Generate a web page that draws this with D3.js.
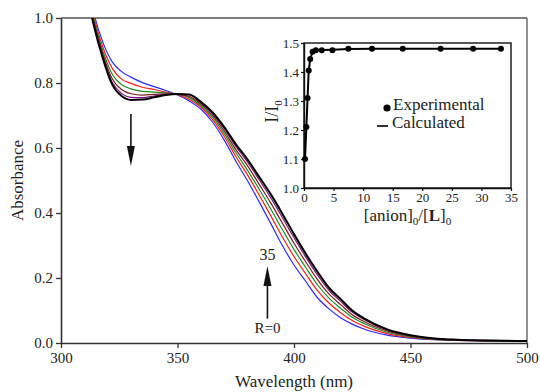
<!DOCTYPE html>
<html>
<head>
<meta charset="utf-8">
<script src="https://cdn.jsdelivr.net/npm/d3@7"></script>
<style>
  body { margin: 0; background: #fff; }
  svg text { font-family: "Liberation Serif", "DejaVu Serif", serif !important; fill: #222; }
</style>
</head>
<body>
<script>
// data

const wavelengths = [310, 314, 318, 322, 326, 330, 335, 340, 345, 350, 355, 360, 365, 370, 375, 380, 385, 390, 395, 400, 405, 410, 415, 420, 425, 430, 440, 450, 460, 470, 480, 490, 500];

const absBlue   = [1.20, 1.02, 0.925, 0.865, 0.835, 0.818, 0.801, 0.789, 0.777, 0.763, 0.745, 0.720, 0.680, 0.625, 0.560, 0.500, 0.435, 0.368, 0.300, 0.240, 0.190, 0.140, 0.105, 0.078, 0.058, 0.043, 0.024, 0.015, 0.010, 0.008, 0.007, 0.006, 0.006];
const absRed    = [1.180, 1.010, 0.910, 0.845, 0.812, 0.799, 0.787, 0.780, 0.772, 0.764, 0.750, 0.726, 0.688, 0.636, 0.574, 0.518, 0.456, 0.392, 0.326, 0.266, 0.213, 0.162, 0.123, 0.093, 0.069, 0.052, 0.029, 0.017, 0.011, 0.008, 0.007, 0.006, 0.006];
const absGreen  = [1.160, 1.000, 0.898, 0.827, 0.795, 0.782, 0.774, 0.772, 0.770, 0.765, 0.755, 0.731, 0.695, 0.645, 0.586, 0.532, 0.474, 0.413, 0.349, 0.288, 0.233, 0.180, 0.138, 0.107, 0.079, 0.060, 0.033, 0.019, 0.012, 0.009, 0.007, 0.006, 0.006];
const absBrown  = [1.144, 0.992, 0.889, 0.813, 0.780, 0.767, 0.763, 0.765, 0.767, 0.765, 0.759, 0.735, 0.701, 0.653, 0.596, 0.546, 0.489, 0.431, 0.369, 0.307, 0.250, 0.196, 0.151, 0.118, 0.087, 0.066, 0.037, 0.021, 0.013, 0.009, 0.008, 0.007, 0.006];
const absPurple = [1.130, 0.985, 0.880, 0.802, 0.768, 0.756, 0.755, 0.760, 0.765, 0.766, 0.763, 0.739, 0.706, 0.660, 0.606, 0.557, 0.503, 0.447, 0.386, 0.324, 0.265, 0.210, 0.162, 0.128, 0.095, 0.072, 0.040, 0.023, 0.014, 0.010, 0.008, 0.007, 0.006];
const absBlack  = [1.120, 0.980, 0.875, 0.795, 0.760, 0.748, 0.749, 0.756, 0.763, 0.766, 0.765, 0.742, 0.710, 0.665, 0.612, 0.565, 0.512, 0.458, 0.398, 0.335, 0.275, 0.220, 0.170, 0.135, 0.100, 0.076, 0.042, 0.024, 0.014, 0.010, 0.008, 0.007, 0.006];

const spectra = [
    { color: "#2a2aff", width: 1.2, values: absBlue },
    { color: "#ff1a1a", width: 1.2, values: absRed },
    { color: "#1f8a1f", width: 1.2, values: absGreen },
    { color: "#7a1c1c", width: 1.2, values: absBrown },
    { color: "#7a157a", width: 1.2, values: absPurple },
    { color: "#000000", width: 2.0, values: absBlack }
];

const xTicks = [300, 350, 400, 450, 500];
const yTicks = [0, 0.2, 0.4, 0.6, 0.8, 1.0];

// inset data
const ratio      = [0.17, 0.4, 0.6, 0.8, 1.05, 1.45, 2.0, 3.0, 4.8, 7.5, 11.5, 16.7, 23.1, 28.6, 33.3];
const intensity  = [1.10, 1.21, 1.31, 1.405, 1.445, 1.47, 1.475, 1.475, 1.475, 1.48, 1.48, 1.48, 1.48, 1.48, 1.48];
const calculated = [1.10, 1.21, 1.31, 1.405, 1.445, 1.47, 1.475, 1.476, 1.477, 1.479, 1.48, 1.48, 1.48, 1.48, 1.48];
const insetXTicks = [0, 5, 10, 15, 20, 25, 30, 35];
const insetYTicks = [1.0, 1.1, 1.2, 1.3, 1.4, 1.5];

const serif = '"Liberation Serif", "DejaVu Serif", serif';

// dimensions

const dms = {
    width: 540,
    height: 392,
    margins: { top: 18, right: 13, bottom: 49, left: 61 }
};
dms.innerWidth = dms.width - dms.margins.left - dms.margins.right;
dms.innerHeight = dms.height - dms.margins.top - dms.margins.bottom;

const svg = d3.select("body")
    .append("svg")
        .attr("width", dms.width)
        .attr("height", dms.height)
        .attr("font-family", serif);

const g = svg.append("g")
    .attr("transform", `translate(${dms.margins.left},${dms.margins.top})`);

// scales

const xScale = d3.scaleLinear().domain([300, 500]).range([0, dms.innerWidth]);
const yScale = d3.scaleLinear().domain([0, 1]).range([dms.innerHeight, 0]);

// clip

svg.append("defs").append("clipPath")
    .attr("id", "plotClip")
    .append("rect")
        .attr("width", dms.innerWidth)
        .attr("height", dms.innerHeight);

// frame top/right

g.append("line")
    .attr("x1", 0).attr("x2", dms.innerWidth).attr("y1", 0).attr("y2", 0)
    .attr("stroke", "#555").attr("stroke-width", 1.3);
g.append("line")
    .attr("x1", dms.innerWidth).attr("x2", dms.innerWidth).attr("y1", 0).attr("y2", dms.innerHeight)
    .attr("stroke", "#555").attr("stroke-width", 1.3);

// spectra

const line = d3.line()
    .x((d, i) => xScale(wavelengths[i]))
    .y(d => yScale(d))
    .curve(d3.curveMonotoneX);

g.append("g")
    .attr("clip-path", "url(#plotClip)")
    .selectAll("path")
    .data(spectra)
    .enter()
    .append("path")
        .attr("d", d => line(d.values))
        .attr("fill", "none")
        .attr("stroke", d => d.color)
        .attr("stroke-width", d => d.width);

// axes

const xAxis = g.append("g")
    .attr("transform", `translate(0,${dms.innerHeight})`)
    .call(d3.axisBottom(xScale).tickValues(xTicks).tickSize(5).tickSizeOuter(0).tickPadding(4));
const yAxis = g.append("g")
    .call(d3.axisLeft(yScale).tickValues(yTicks).tickFormat(d3.format(".1f")).tickSize(5).tickSizeOuter(0).tickPadding(3));

[xAxis, yAxis].forEach(ax => {
    ax.attr("font-family", serif);
    ax.select(".domain").attr("stroke", "#333").attr("stroke-width", 1.6);
    ax.selectAll(".tick line").attr("stroke", "#333").attr("stroke-width", 1.3);
    ax.selectAll(".tick text").style("font-size", "15px").attr("fill", "#222");
});

svg.append("text")
    .attr("x", dms.margins.left + dms.innerWidth / 2)
    .attr("y", 387)
    .attr("text-anchor", "middle")
    .style("font-size", "17px")
    .text("Wavelength (nm)");

svg.append("text")
    .attr("transform", `translate(23,${dms.margins.top + dms.innerHeight / 2}) rotate(-90)`)
    .attr("text-anchor", "middle")
    .style("font-size", "17px")
    .text("Absorbance");

// arrows

function arrow(x, yFrom, yTo) {
    const dir = yTo > yFrom ? 1 : -1;
    const headLen = 20;
    g.append("line")
        .attr("x1", x).attr("x2", x)
        .attr("y1", yFrom).attr("y2", yTo - dir * headLen + dir * 2)
        .attr("stroke", "#111").attr("stroke-width", 1.6);
    g.append("path")
        .attr("d", `M${x - 4},${yTo - dir * headLen} L${x + 4},${yTo - dir * headLen} L${x},${yTo} Z`)
        .attr("fill", "#111");
}

arrow(xScale(330), yScale(0.705), yScale(0.545));
arrow(xScale(388.6), yScale(0.075), yScale(0.237));

g.append("text")
    .attr("x", xScale(388.6))
    .attr("y", yScale(0.255))
    .attr("text-anchor", "middle")
    .style("font-size", "16px")
    .text("35");
g.append("text")
    .attr("x", xScale(388.6))
    .attr("y", yScale(0.03))
    .attr("text-anchor", "middle")
    .style("font-size", "15px")
    .text("R=0");

// inset

const inset = { left: 304, top: 43, width: 207, height: 145 };

const ix = d3.scaleLinear().domain([0, 35]).range([0, inset.width]);
const iy = d3.scaleLinear().domain([1.0, 1.5]).range([inset.height, 0]);

const ig = svg.append("g")
    .attr("transform", `translate(${inset.left},${inset.top})`);

ig.append("rect")
    .attr("width", inset.width)
    .attr("height", inset.height)
    .attr("fill", "none")
    .attr("stroke", "#111")
    .attr("stroke-width", 1.4);

const ixAxis = ig.append("g")
    .attr("transform", `translate(0,${inset.height})`)
    .call(d3.axisBottom(ix).tickValues(insetXTicks).tickSize(3).tickSizeOuter(0).tickPadding(2));
const iyAxis = ig.append("g")
    .call(d3.axisLeft(iy).tickValues(insetYTicks).tickFormat(d3.format(".1f")).tickSize(3).tickSizeOuter(0).tickPadding(2));

[ixAxis, iyAxis].forEach(ax => {
    ax.attr("font-family", serif);
    ax.select(".domain").attr("stroke", "#111").attr("stroke-width", 1.4);
    ax.selectAll(".tick line").attr("stroke", "#111").attr("stroke-width", 1.2);
    ax.selectAll(".tick text").style("font-size", "13px").attr("fill", "#222");
});

const insetLine = d3.line()
    .x((d, i) => ix(ratio[i]))
    .y(d => iy(d));

ig.append("path")
    .attr("d", insetLine(calculated))
    .attr("fill", "none")
    .attr("stroke", "#000")
    .attr("stroke-width", 2);

ig.selectAll("circle")
    .data(intensity)
    .enter()
    .append("circle")
        .attr("cx", (d, i) => ix(ratio[i]))
        .attr("cy", d => iy(d))
        .attr("r", 3)
        .attr("fill", "#000");

// inset legend
svg.append("circle")
    .attr("cx", 387).attr("cy", 108).attr("r", 3.6).attr("fill", "#000");
svg.append("text")
    .attr("x", 393).attr("y", 110)
    .style("font-size", "17px")
    .text("Experimental");
svg.append("line")
    .attr("x1", 377).attr("x2", 388).attr("y1", 126).attr("y2", 126)
    .attr("stroke", "#000").attr("stroke-width", 1.6);
svg.append("text")
    .attr("x", 392).attr("y", 128)
    .style("font-size", "17px")
    .text("Calculated");

// inset axis titles
const ixTitle = svg.append("text")
    .attr("x", inset.left + inset.width / 2)
    .attr("y", 221)
    .attr("text-anchor", "middle")
    .style("font-size", "17px");
ixTitle.append("tspan").text("[anion]");
ixTitle.append("tspan").attr("dy", 4).style("font-size", "11px").text("0");
ixTitle.append("tspan").attr("dy", -4).text("/[");
ixTitle.append("tspan").style("font-weight", "bold").text("L");
ixTitle.append("tspan").text("]");
ixTitle.append("tspan").attr("dy", 4).style("font-size", "11px").text("0");

const iyTitle = svg.append("text")
    .attr("transform", `translate(278,${inset.top + inset.height / 2 - 4}) rotate(-90)`)
    .attr("text-anchor", "middle")
    .style("font-size", "18px");
iyTitle.append("tspan").text("I/I");
iyTitle.append("tspan").attr("dy", 4).style("font-size", "11px").text("0");
</script>
</body>
</html>
